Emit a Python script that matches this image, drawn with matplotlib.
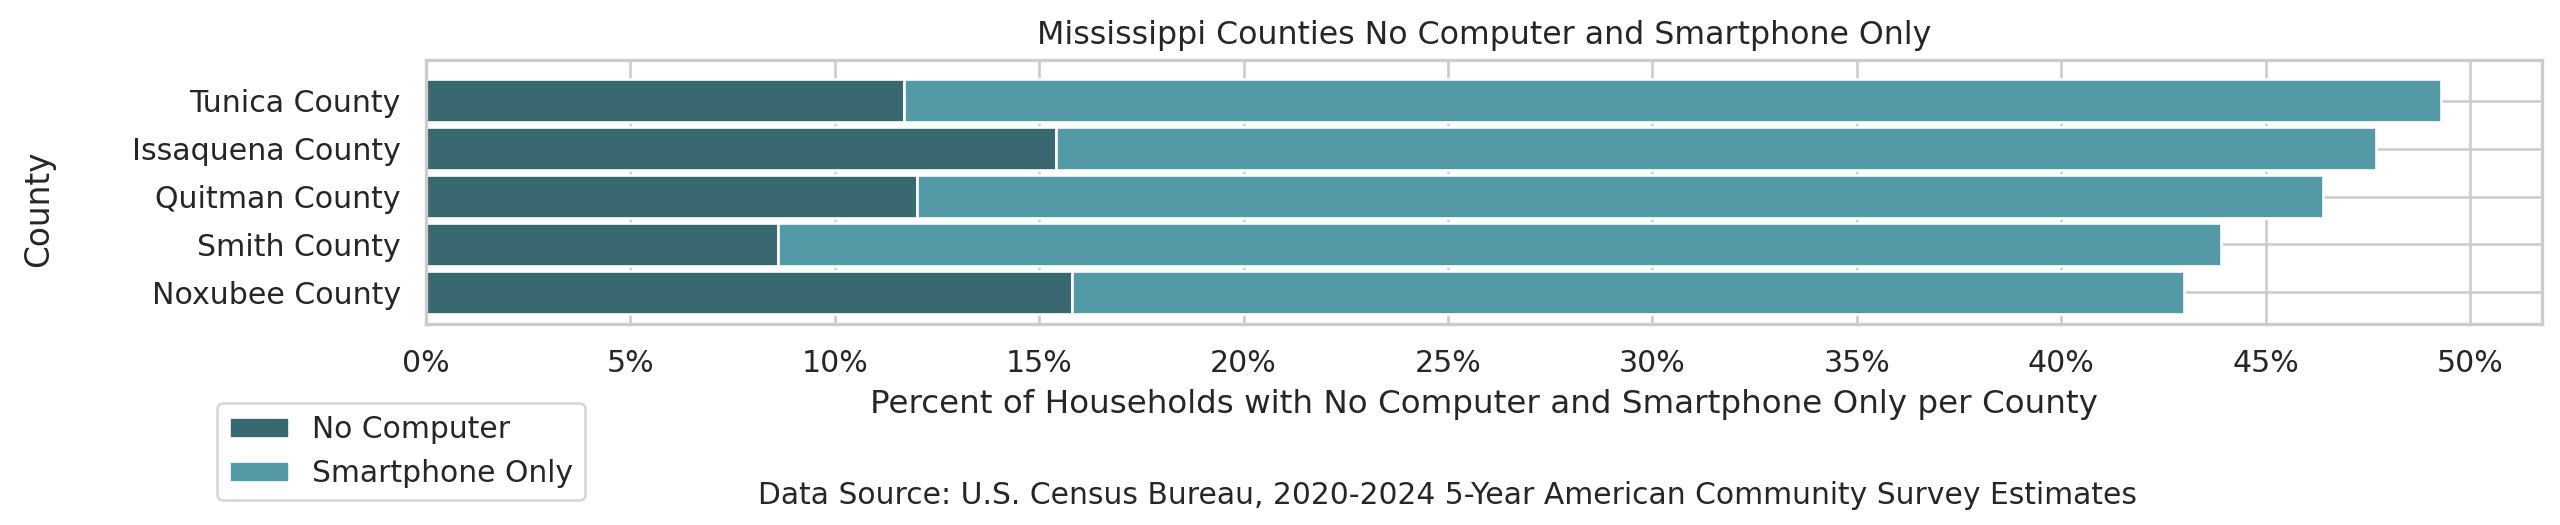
import matplotlib
matplotlib.use("Agg")
import matplotlib.pyplot as plt
import seaborn as sns
import numpy as np
from matplotlib.ticker import PercentFormatter, MultipleLocator

counties = ["Tunica County", "Issaquena County", "Quitman County", "Smith County", "Noxubee County"]
no_computer = [11.7, 15.4, 12.0, 8.6, 15.8]
smartphone_only = [37.6, 32.3, 34.4, 35.3, 27.2]
series_labels = ["No Computer", "Smartphone Only"]

title = "Mississippi Counties No Computer and Smartphone Only"
xlabel = "Percent of Households with No Computer and Smartphone Only per County"
ylabel = "County"
source = "Data Source: U.S. Census Bureau, 2020-2024 5-Year American Community Survey Estimates"

sns.set_theme(style="whitegrid")
plt.rcParams['font.family'] = ['DejaVu Sans']

DPI = 190
fig = plt.figure(figsize=(2560 / DPI, 525 / DPI), dpi=DPI)
ax = fig.add_axes([0.1664, 0.3829, 0.993 - 0.1664, 0.8857 - 0.3829])

dark = "#3a6870"
light = "#5399a6"
y = np.arange(len(counties))
nc = np.array(no_computer)
sp = np.array(smartphone_only)
ax.barh(y, nc, height=0.88, color=dark, edgecolor="white", linewidth=1.0, label=series_labels[0])
ax.barh(y, sp, left=nc, height=0.88, color=light, edgecolor="white", linewidth=1.0, label=series_labels[1])

ax.set_yticks(y)
ax.set_yticklabels(counties)
ax.set_ylim(len(counties) - 1 + 0.656, -0.844)
totals = nc + sp
ax.set_xlim(0, totals.max() * 1.05)
ax.xaxis.set_major_locator(MultipleLocator(5))
ax.xaxis.set_major_formatter(PercentFormatter(xmax=100, decimals=0))
ax.tick_params(axis="both", labelsize=11.4)

ax.set_title(title, fontsize=12)
ax.set_xlabel(xlabel, fontsize=12.3)
ax.set_ylabel(ylabel, fontsize=12.4, labelpad=29)
ax.yaxis.label.set_y(0.435)

for s in ax.spines.values():
    s.set_edgecolor("#cccccc")

ax.legend(loc="upper left", bbox_to_anchor=(217 / 2560, 1 - 403 / 525),
          bbox_transform=fig.transFigure, borderaxespad=0, fontsize=11.3)

fig.text(1448 / 2560, 1 - 495 / 525, source, ha="center", va="center", fontsize=11.3, color="#262626")

fig.savefig("out.png", dpi=DPI)
